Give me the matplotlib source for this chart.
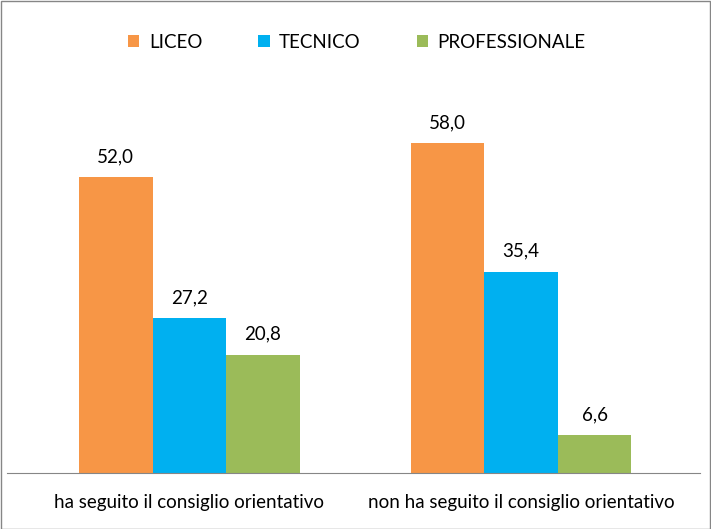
import numpy as np
import matplotlib.pyplot as plt
from matplotlib.patches import Rectangle

categories = ["ha seguito il consiglio orientativo", "non ha seguito il consiglio orientativo"]
series_names = ["LICEO", "TECNICO", "PROFESSIONALE"]
liceo = [52.0, 58.0]
tecnico = [27.2, 35.4]
professionale = [20.8, 6.6]

colors = ["#F79646", "#00B0F0", "#9BBB59"]

plt.rcParams["font.family"] = ["Lato", "DejaVu Sans"]

W, H = 711, 529
fig = plt.figure(figsize=(W / 100, H / 100), dpi=100)
ax = fig.add_axes([7 / W, (H - 473) / H, 693 / W, (473 - 75) / H])

x = np.arange(len(categories))
width = 0.222
for i, (vals, name) in enumerate(zip([liceo, tecnico, professionale], series_names)):
    pos = x + (i - 1) * width
    ax.bar(pos, vals, width, color=colors[i], label=name)
    for p, v in zip(pos, vals):
        ax.text(p, v + 3.6, f"{v:.1f}".replace(".", ","), ha="center", va="center",
                fontsize=13.5, color="#000000")

ax.set_xlim(-0.55, 1.54)
ax.set_ylim(0, 70)
ax.set_xticks(x)
ax.set_xticklabels(categories, fontsize=13.5)
ax.tick_params(axis="x", length=0, pad=15)
ax.set_yticks([])
for s in ["top", "right", "left"]:
    ax.spines[s].set_visible(False)
ax.spines["bottom"].set_color("#868686")

fig.legend(loc="center", bbox_to_anchor=(0.502, (H - 42) / H), ncol=3, frameon=False,
           fontsize=13.5, handlelength=0.6, handleheight=0.6, columnspacing=3.0,
           handletextpad=0.5)

fig.patches.append(Rectangle((0.5 / W, 0.5 / H), 1 - 1.5 / W, 1 - 1.5 / H,
                             transform=fig.transFigure, fill=False,
                             edgecolor="#868686", linewidth=1))

fig.savefig("out.png", dpi=100)
